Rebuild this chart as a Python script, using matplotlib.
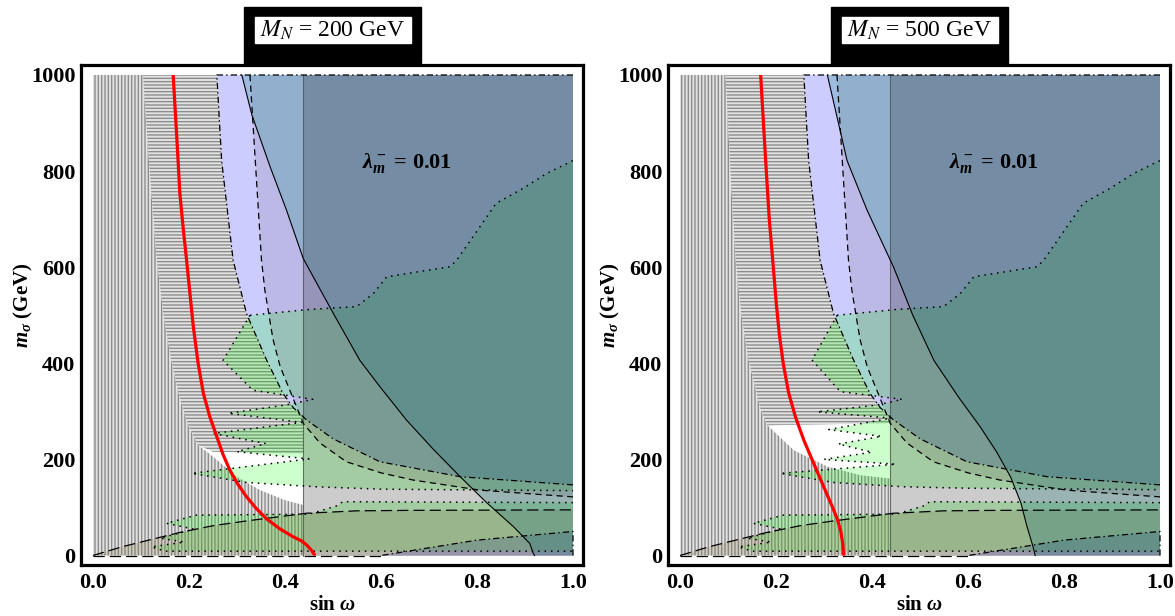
import numpy as np
import matplotlib
matplotlib.use("Agg")
import matplotlib.pyplot as plt
from matplotlib.patches import Rectangle

plt.rcParams['font.family'] = ['Liberation Serif', 'DejaVu Serif']
plt.rcParams['mathtext.fontset'] = 'custom'
plt.rcParams['mathtext.rm'] = 'Liberation Serif:bold'
plt.rcParams['mathtext.it'] = 'Liberation Serif:italic:bold'
plt.rcParams['mathtext.bf'] = 'Liberation Serif:bold'
plt.rcParams['hatch.linewidth'] = 1.0

# ---------------------------------------------------------------- data
MN_VALUES = [200, 500]
X_TICKS = [0.0, 0.2, 0.4, 0.6, 0.8, 1.0]
Y_TICKS = [0, 200, 400, 600, 800, 1000]
LAMBDA_LABEL = r'$\lambda_m^-$ = 0.01'
SIN_CUT = 0.4385          # vertical exclusion line in sin(omega)

# boundary of the vertically hatched region (upper part meets horizontal hatching,
# lower part borders the allowed white window)
V_UPPER_200 = [(0.104, 1000), (0.118, 800), (0.133, 614), (0.147, 500), (0.163, 406),
               (0.18, 330), (0.2, 267), (0.219, 230)]
V_LOWER_200 = [(0.251, 205), (0.299, 164), (0.348, 136), (0.40, 115), (0.4385, 105)]
V_UPPER_500 = [(0.095, 1000), (0.105, 800), (0.116, 614), (0.128, 500), (0.143, 406),
               (0.168, 303), (0.182, 271)]
V_LOWER_500 = [(0.237, 219), (0.307, 185), (0.376, 167), (0.4385, 160)]

# lower edge of the horizontally hatched region
H_BOTTOM_200 = [(0.25, 216), (0.4385, 212)]
H_BOTTOM_500 = [(0.30, 273), (0.4385, 275)]

# dash-dotted contour (upper branch and lower-right branch)
P_TOP = [(0.258, 1000), (0.268, 822), (0.292, 614), (0.32, 503), (0.362, 406), (0.396, 337),
         (0.417, 308), (0.445, 282), (0.5, 243), (0.598, 195), (0.765, 164), (1.0, 147)]
P_BOTTOM = [(0.6, 0), (0.8, 32), (1.0, 50)]

# dashed contour
R_CURVE = [(0.327, 1000), (0.338, 823), (0.351, 615), (0.358, 552), (0.375, 450), (0.39, 393),
           (0.41, 344), (0.438, 275), (0.473, 234), (0.528, 195), (0.6, 172), (0.667, 157),
           (0.806, 136), (1.0, 122)]

# long-dashed contour near the bottom
S_CURVE = [(0.0, 0), (0.06, 18), (0.12, 33), (0.181, 48), (0.25, 62), (0.32, 72),
           (0.445, 88), (0.55, 93), (0.667, 94), (1.0, 95)]

# solid contour
Q_200 = [(0.31, 1000), (0.331, 917), (0.369, 809), (0.403, 719), (0.438, 618), (0.5, 505),
         (0.556, 406), (0.598, 351), (0.653, 282), (0.71, 220), (0.765, 164), (0.82, 110),
         (0.876, 60), (0.91, 25), (0.917, 5), (0.92, 0)]
Q_500 = [(0.307, 1000), (0.348, 822), (0.39, 718), (0.445, 600), (0.485, 500), (0.529, 406),
         (0.58, 330), (0.626, 267), (0.66, 215), (0.689, 163), (0.71, 110), (0.723, 60),
         (0.735, 20), (0.74, 0)]

# dotted (scan) regions
G_UPPER = [(0.327, 500), (0.45, 512), (0.549, 518), (0.584, 545), (0.612, 580), (0.744, 601),
           (0.758, 615), (0.806, 684), (0.84, 733), (0.896, 764), (0.945, 795), (1.0, 822)]
G_TEETH_200 = [(0.327, 500), (0.271, 406), (0.333, 344), (0.458, 325), (0.40, 313), (0.282, 296),
               (0.435, 277), (0.251, 254), (0.36, 233), (0.30, 216), (0.45, 201), (0.206, 171),
               (0.32, 152), (0.466, 143), (0.6, 138), (1.0, 135)]
G_TEETH_500 = [(0.3275, 500), (0.275, 407), (0.334, 341), (0.463, 325), (0.41, 313), (0.286, 299),
               (0.44, 286), (0.31, 262), (0.42, 248), (0.33, 232), (0.40, 215), (0.30, 200),
               (0.45, 190), (0.209, 171), (0.32, 152), (0.466, 143), (0.6, 140), (1.0, 137)]
G_LOW = [(1.0, 110), (0.52, 112), (0.51, 104), (0.49, 98), (0.45, 86), (0.215, 84), (0.153, 67),
         (0.21, 55), (0.14, 36), (0.19, 28), (0.122, 18), (0.15, 9), (1.0, 9)]

# red curve
RED_200 = [(0.167, 1000), (0.174, 880), (0.181, 753), (0.188, 680), (0.195, 614), (0.202, 545),
           (0.209, 476), (0.219, 400), (0.23, 337), (0.243, 290), (0.258, 247), (0.271, 210),
           (0.285, 178), (0.302, 148), (0.32, 122), (0.34, 98), (0.362, 76), (0.39, 55),
           (0.417, 39), (0.435, 30), (0.445, 22), (0.455, 11), (0.4625, 0)]
RED_500 = [(0.168, 1000), (0.175, 880), (0.181, 780), (0.186, 700), (0.191, 640), (0.196, 580),
           (0.201, 520), (0.207, 460), (0.215, 400), (0.226, 340), (0.24, 290), (0.258, 240),
           (0.275, 200), (0.29, 165), (0.305, 130), (0.318, 100), (0.328, 75), (0.335, 50),
           (0.339, 25), (0.341, 0)]

PANELS = [
    dict(mn=MN_VALUES[0], v_up=V_UPPER_200, v_low=V_LOWER_200, h_bot=H_BOTTOM_200,
         teeth=G_TEETH_200, q=Q_200, red=RED_200),
    dict(mn=MN_VALUES[1], v_up=V_UPPER_500, v_low=V_LOWER_500, h_bot=H_BOTTOM_500,
         teeth=G_TEETH_500, q=Q_500, red=RED_500),
]

# ---------------------------------------------------------------- styles
W, H = 1175, 616
FRAME_L = [81, 668]
FRAME_W = 502
FRAME_TOP, FRAME_BOT = 65, 565
XLIM = (-12 / 480, 1 + 10 / 480)
YLIM = (-(565 - 555.5) / 0.481, 1000 + 10 / 0.481)

C_P = (0.0, 0.0, 1.0, 0.20)
C_G = (0.0, 1.0, 0.0, 0.20)
C_R = (0.40, 0.30, 0.35, 0.15)
C_S = (0.55, 0.45, 0.25, 0.20)
C_Q = (0.20, 0.60, 0.60, 0.30)
C_CUT = (0.0, 0.0, 0.0, 0.20)
HATCH_FACE = '#e2e2e2'
HATCH_LINE = '#8c8c8c'
LW = 0.9
DASHDOT = (0, (5, 2.5, 1.2, 2.5))
DASHED = (0, (5, 3.5))
LONGDASH = (0, (9, 4))
DOTTED = (0, (1.0, 3.2))


def arr(pts):
    a = np.asarray(pts, dtype=float)
    return a[:, 0], a[:, 1]


def draw_panel(ax, p):
    px, py = arr(P_TOP)
    y_cut = np.interp(SIN_CUT, px, py)

    # vertically hatched exclusion
    vx, vy = arr([(0, 1000)] + p['v_up'] + p['v_low'] + [(SIN_CUT, 0), (0, 0)])
    ax.fill(vx, vy, facecolor=HATCH_FACE, edgecolor=HATCH_LINE, hatch='|||||',
            linewidth=0, zorder=1)

    # horizontally hatched exclusion
    left_pts = [pt for pt in P_TOP if pt[0] < SIN_CUT][::-1]
    hx, hy = arr(p['v_up'] + p['h_bot'] + [(SIN_CUT, y_cut)] + left_pts)
    ax.fill(hx, hy, facecolor=HATCH_FACE, edgecolor=HATCH_LINE, hatch='-----',
            linewidth=0, zorder=1)

    # translucent regions
    x, y = arr(P_TOP + [(1.0, 1000)])
    ax.fill(x, y, color=C_P, lw=0, zorder=2)
    x, y = arr(P_BOTTOM + [(1.0, 0)])
    ax.fill(x, y, color=C_P, lw=0, zorder=2)

    x, y = arr(G_UPPER + p['teeth'][::-1])
    ax.fill(x, y, color=C_G, lw=0, zorder=3)
    x, y = arr(G_LOW)
    ax.fill(x, y, color=C_G, lw=0, zorder=3)

    x, y = arr(R_CURVE + [(1.0, 1000)])
    ax.fill(x, y, color=C_R, lw=0, zorder=4)
    x, y = arr(S_CURVE + [(1.0, 0)])
    ax.fill(x, y, color=C_S, lw=0, zorder=5)
    x, y = arr(p['q'] + [(1.0, 0), (1.0, 1000)])
    ax.fill(x, y, color=C_Q, lw=0, zorder=6)

    ax.fill([SIN_CUT, 1, 1, SIN_CUT], [0, 0, 1000, 1000], color=C_CUT, lw=0, zorder=7)
    ax.plot([SIN_CUT, SIN_CUT], [0, 1000], color='#555555', lw=0.8, alpha=0.8, zorder=8)

    # boundaries, including the stretches that run along the plot range edges
    ax.plot(*arr([(1.0, 1000)] + P_TOP), color='k', lw=LW, ls=DASHDOT, zorder=8)
    ax.plot(*arr([(1.0, 0)] + P_BOTTOM[::-1]), color='k', lw=LW, ls=DASHDOT, zorder=8)
    ax.plot(*arr(R_CURVE), color='k', lw=LW, ls=DASHED, zorder=8)
    ax.plot(*arr(S_CURVE), color='k', lw=LW, ls=LONGDASH, zorder=8)
    ax.plot(*arr([(0.0, 0), (P_BOTTOM[0][0], 0)]), color='k', lw=LW, ls=LONGDASH, zorder=8)
    ax.plot(*arr(p['q']), color='k', lw=0.8, zorder=8)
    for pts in (G_UPPER, p['teeth'], G_LOW):
        ax.plot(*arr(pts), color='k', lw=1.1, ls=DOTTED, zorder=8)

    ax.plot(*arr(p['red']), color='red', lw=2.3, zorder=9, solid_capstyle='butt')

    ax.text(0.655, 816, LAMBDA_LABEL, fontsize=16, fontweight='bold',
            ha='center', va='center', zorder=10, math_fontfamily='custom')

    ax.set_xlim(*XLIM)
    ax.set_ylim(*YLIM)
    ax.set_xticks(X_TICKS)
    ax.set_xticklabels([f'{t:.1f}' for t in X_TICKS])
    ax.set_yticks(Y_TICKS)
    ax.set_yticklabels([str(t) for t in Y_TICKS])
    ax.tick_params(length=0, labelsize=16, pad=6)
    ax.tick_params(axis='y', pad=4)
    for lab in ax.get_xticklabels() + ax.get_yticklabels():
        lab.set_fontweight('bold')
    for s in ax.spines.values():
        s.set_linewidth(2.3)


fig = plt.figure(figsize=(W / 100, H / 100), dpi=100)
for i, p in enumerate(PANELS):
    ax = fig.add_axes([FRAME_L[i] / W, 1 - FRAME_BOT / H, FRAME_W / W,
                       (FRAME_BOT - FRAME_TOP) / H])
    draw_panel(ax, p)

    cx = FRAME_L[i] + 252
    # framed title
    fig.patches.append(Rectangle(((cx - 89) / W, 1 - 65 / H), 177 / W, 58 / H,
                                 transform=fig.transFigure, color='black', zorder=5))
    fig.patches.append(Rectangle(((cx - 78) / W, 1 - 43 / H), 156 / W, 26 / H,
                                 transform=fig.transFigure, color='white', zorder=6))
    fig.text(cx / W, 1 - 30.5 / H, rf'$M_N$ = {p["mn"]} GeV', fontsize=17,
             ha='center', va='center', math_fontfamily='stix', zorder=7)

    # axis labels
    fig.text((FRAME_L[i] + 252) / W, 1 - 605 / H, r'sin $\omega$', fontsize=15,
             fontweight='bold', ha='center', va='center', math_fontfamily='custom')
    fig.text((FRAME_L[i] - 58) / W, 1 - 305 / H, r'$m_\sigma$ (GeV)', fontsize=15,
             fontweight='bold', ha='center', va='center', rotation=90,
             math_fontfamily='custom')

fig.savefig('out.png', dpi=100)
